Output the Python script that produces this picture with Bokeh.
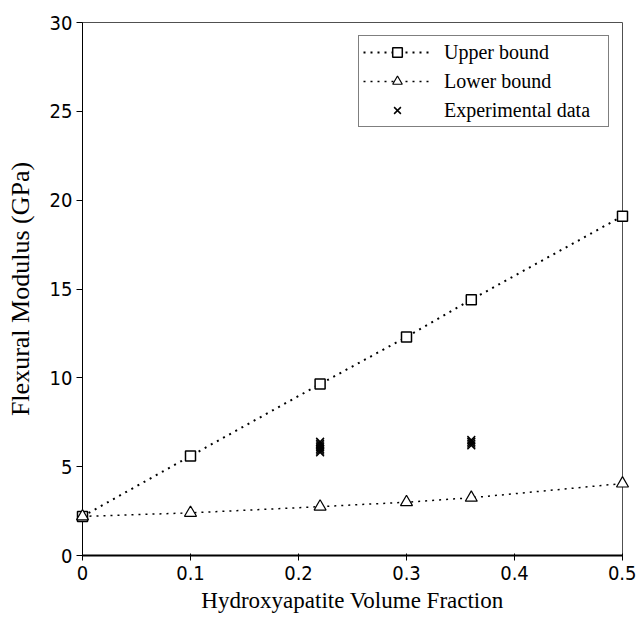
from bokeh.plotting import figure
from bokeh.models import Range1d, FixedTicker, Legend, LegendItem
from bokeh.embed import file_html
from bokeh.resources import INLINE

# ---- data ----
x_vals = [0, 0.1, 0.22, 0.3, 0.36, 0.5]
upper_bound = [2.2, 5.6, 9.65, 12.3, 14.4, 19.1]
lower_bound = [2.2, 2.4, 2.75, 3.0, 3.25, 4.05]
exp_x = [0.22, 0.22, 0.22, 0.22, 0.22, 0.22, 0.22, 0.36, 0.36, 0.36, 0.36]
exp_y = [5.8, 5.9, 6.0, 6.1, 6.2, 6.3, 6.4, 6.2, 6.3, 6.4, 6.5]
x_ticks = [0, 0.1, 0.2, 0.3, 0.4, 0.5]
x_tick_labels = ["0", "0.1", "0.2", "0.3", "0.4", "0.5"]
y_ticks = [0, 5, 10, 15, 20, 25, 30]
y_tick_labels = ["0", "5", "10", "15", "20", "25", "30"]

TICK_FONT = "DejaVu Sans Condensed"
SERIF = "Liberation Serif"

p = figure(width=636, height=621, output_backend="svg", toolbar_location=None,
           x_range=Range1d(0, 0.5), y_range=Range1d(0, 30),
           min_border_left=82, min_border_right=14, min_border_top=22, min_border_bottom=66)
p.background_fill_color = "white"
p.border_fill_color = "white"
p.outline_line_color = "#505050"
p.outline_line_width = 1
p.xgrid.visible = False
p.ygrid.visible = False

# axes
p.xaxis.ticker = FixedTicker(ticks=x_ticks)
p.yaxis.ticker = FixedTicker(ticks=y_ticks)
p.xaxis.major_label_overrides = {t: l for t, l in zip(x_ticks, x_tick_labels)}
p.yaxis.major_label_overrides = {t: l for t, l in zip(y_ticks, y_tick_labels)}
for ax in (p.xaxis[0], p.yaxis[0]):
    ax.axis_line_color = "black"
    ax.major_tick_line_color = "black"
    ax.minor_tick_line_color = None
    ax.major_label_text_font = TICK_FONT
    ax.major_label_text_font_size = "20px"
    ax.major_label_text_color = "black"
    ax.axis_label_text_font = SERIF
    ax.axis_label_text_font_style = "normal"
    ax.axis_label_text_color = "black"
p.xaxis.axis_line_width = 2
p.yaxis.axis_line_width = 1
p.xaxis.major_tick_in = 2
p.xaxis.major_tick_out = 5
p.yaxis.major_tick_in = 0
p.yaxis.major_tick_out = 6
p.xaxis.major_label_standoff = 5
p.yaxis.major_label_standoff = 4
p.xaxis.axis_label = "Hydroxyapatite Volume Fraction"
p.yaxis.axis_label = "Flexural Modulus (GPa)"
p.xaxis.axis_label_text_font_size = "23px"
p.yaxis.axis_label_text_font_size = "26px"
p.xaxis.axis_label_standoff = 5
p.yaxis.axis_label_standoff = 12

# series
ul = p.line(x_vals, upper_bound, line_color="black", line_width=2, line_dash="2 5")
us = p.scatter(x_vals, upper_bound, marker="square", size=10, fill_color="white",
               line_color="black", line_width=1.5, level="overlay")
ll = p.line(x_vals, lower_bound, line_color="black", line_width=1.5, line_dash="2 5")
ls = p.scatter(x_vals, lower_bound, marker="triangle", size=12, fill_color="white",
               line_color="black", line_width=1.2, level="overlay")
ex = p.scatter(exp_x, exp_y, marker="x", size=11, line_color="black", line_width=1.5,
               level="overlay")

legend = Legend(items=[
    LegendItem(label="Upper bound", renderers=[ul, us]),
    LegendItem(label="Lower bound", renderers=[ll, ls]),
    LegendItem(label="Experimental data", renderers=[ex]),
], location="top_right")
legend.margin = 13
legend.padding = 4
legend.spacing = 5
legend.glyph_width = 68
legend.glyph_height = 24
legend.label_standoff = 13
legend.label_width = 160
legend.label_text_font = SERIF
legend.label_text_font_size = "20px"
legend.label_text_color = "black"
legend.border_line_color = "black"
legend.border_line_width = 1.5
legend.background_fill_color = "white"
legend.background_fill_alpha = 1
p.add_layout(legend)

open("out.html", "w").write(file_html(p, INLINE))
